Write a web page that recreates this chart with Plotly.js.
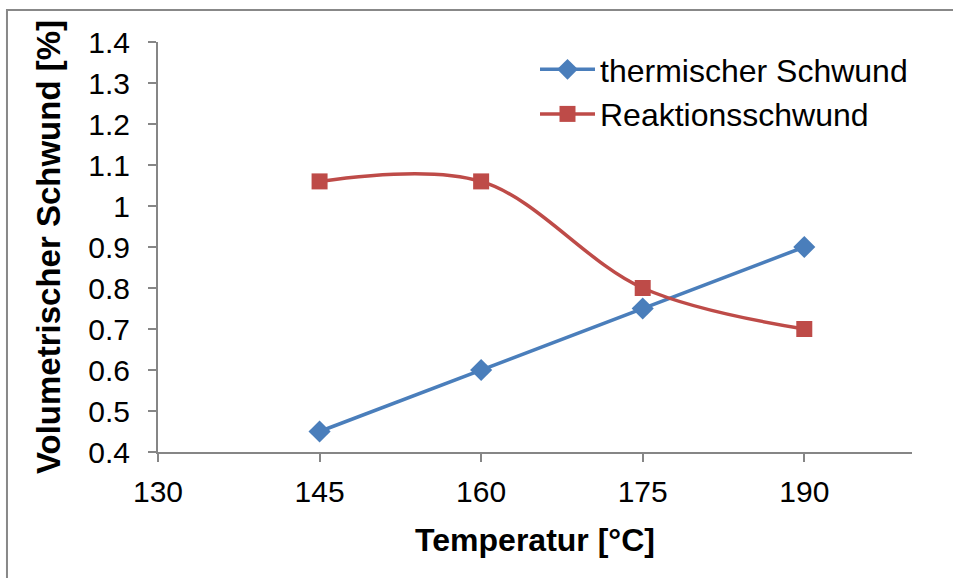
<!DOCTYPE html>
<html>
<head>
<meta charset="utf-8">
<script src="https://cdn.plot.ly/plotly-3.0.1.min.js"></script>
<style>html,body{margin:0;padding:0;background:#fff;}#chart{width:953px;height:578px;}</style>
</head>
<body>
<div id="chart"></div>
<script>
const temperatures = [145, 160, 175, 190];
const thermischerSchwund = [0.45, 0.6, 0.75, 0.9];
const reaktionsschwund = [1.06, 1.06, 0.8, 0.7];
const xTicks = [130, 145, 160, 175, 190];
const yTicks = [0.4, 0.5, 0.6, 0.7, 0.8, 0.9, 1, 1.1, 1.2, 1.3, 1.4];
const yTickText = ['0.4','0.5','0.6','0.7','0.8','0.9','1','1.1','1.2','1.3','1.4'];

const font = 'Liberation Sans, Arial, sans-serif';
const traces = [
  {
    x: temperatures, y: thermischerSchwund, name: 'thermischer Schwund',
    type: 'scatter', mode: 'lines+markers',
    line: {color: '#4a7ebb', width: 3.5},
    marker: {symbol: 'diamond', size: 17, color: '#4a7ebb'}
  },
  {
    x: temperatures, y: reaktionsschwund, name: 'Reaktionsschwund',
    type: 'scatter', mode: 'lines+markers',
    line: {color: '#be4b48', width: 3.5, shape: 'spline', smoothing: 1},
    marker: {symbol: 'square', size: 16, color: '#be4b48'}
  }
];
const axisCommon = {
  showgrid: false, zeroline: false, showline: true,
  linecolor: '#868686', linewidth: 2,
  ticks: 'outside', ticklen: 8, tickwidth: 2, tickcolor: '#868686',
  tickfont: {family: font, size: 30, color: '#000'}
};
const layout = {
  width: 953, height: 578,
  margin: {l: 158, r: 41, t: 42, b: 126},
  paper_bgcolor: '#fff', plot_bgcolor: '#fff',
  showlegend: true,
  legend: {x: 0.5, y: 1.0, xanchor: 'left', yanchor: 'top',
           font: {family: font, size: 32, color: '#000'}, tracegroupgap: 0,
           itemwidth: 55,
           bgcolor: 'rgba(0,0,0,0)'},
  xaxis: Object.assign({}, axisCommon, {
    range: [130, 200], tickvals: xTicks, ticktext: xTicks.map(String),
    ticklabelstandoff: 4,
    title: {text: '<b>Temperatur [°C]</b>', font: {family: font, size: 32, color: '#000'}, standoff: 22}
  }),
  yaxis: Object.assign({}, axisCommon, {
    range: [0.4, 1.4], tickvals: yTicks, ticktext: yTickText,
    ticklabelstandoff: 12,
    title: {text: '<b>Volumetrischer Schwund [%]</b>', font: {family: font, size: 33, color: '#000'}, standoff: 18}
  }),
  shapes: [{
    type: 'rect', xref: 'paper', yref: 'paper',
    x0: -0.2003, x1: 1.2, y0: -0.5, y1: 1.078,
    line: {color: '#888888', width: 2}, fillcolor: 'rgba(0,0,0,0)', layer: 'below'
  }]
};
Plotly.newPlot('chart', traces, layout, {displayModeBar: false, staticPlot: true});
</script>
</body>
</html>
